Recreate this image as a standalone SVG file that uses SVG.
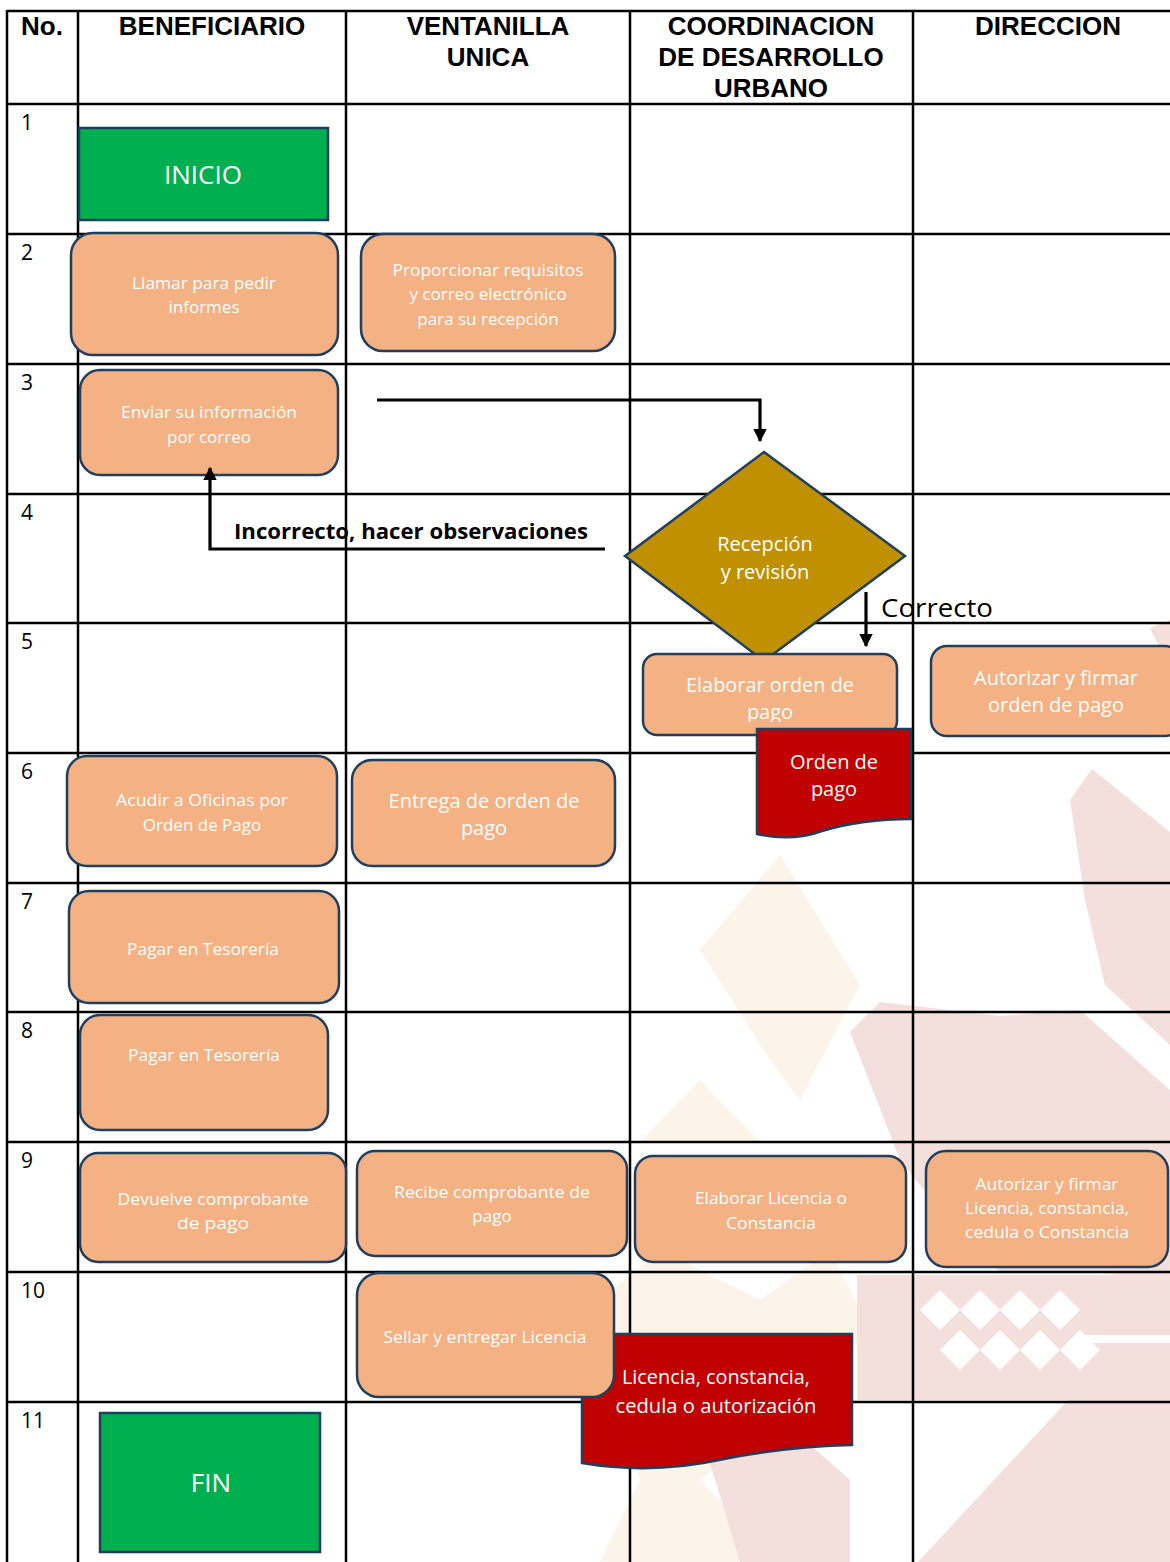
<svg xmlns="http://www.w3.org/2000/svg" width="1170" height="1562" viewBox="0 0 1170 1562">
<style>
.grid line{stroke:#000;stroke-width:2.5}
.hdr{font-family:"Liberation Sans",Arial,sans-serif;font-weight:bold;font-size:26px;fill:#000;text-anchor:middle}
.num{font-family:"Open Sans","Noto Sans",sans-serif;font-size:21px;fill:#000}
.box{fill:#F4B183;stroke:#203F5F;stroke-width:2.5}
.term{fill:#00B050;stroke:#203F5F;stroke-width:2.5}
.doc{fill:#C00000;stroke:#203F5F;stroke-width:2.5}
.dia{fill:#BF9000;stroke:#203F5F;stroke-width:2.5}
.t{font-family:"Open Sans","Noto Sans",sans-serif;fill:#fff;text-anchor:middle}
.s17{font-size:17px}
.s20{font-size:20px}
.s26{font-size:26px}
.conn{fill:none;stroke:#000;stroke-width:3.2}
.lbl{font-family:"Open Sans","Noto Sans",sans-serif;fill:#000}
.wp{fill:#F3E0DC}
.wb{fill:#FCF4E8}
.ww{fill:#fff}
</style>
<defs>
<marker id="arr" viewBox="0 0 10 10" refX="9" refY="5" markerWidth="4.6" markerHeight="4.2" orient="auto" markerUnits="strokeWidth">
<path d="M0,0 L10,5 L0,10 Z" fill="#000"/>
</marker>
<clipPath id="clipElab"><rect x="643" y="654" width="254" height="68"/></clipPath>
</defs>
<rect width="1170" height="1562" fill="#fff"/>
<g id="watermark">
<polygon class="wb" points="700,950 780,855 860,985 800,1100 770,1060"/>
<polygon class="wb" points="640,1142 700,1080 760,1142"/>
<polygon class="wb" points="600,1300 660,1250 760,1300 830,1250 870,1330 800,1400 700,1480 780,1562 600,1562 640,1480"/>
<polygon class="wp" points="1092,769 1170,832 1170,1045 1105,985 1085,900 1070,800"/>
<polygon class="wp" points="1150,628 1170,620 1170,670"/>
<polygon class="wp" points="850,1032 880,1002 1000,1016 1080,1010 1170,1090 1170,1280 1090,1272 1000,1272 940,1210 900,1160"/>
<polygon class="wp" points="857,1275 1170,1275 1170,1400 857,1400"/>
<polygon class="wp" points="918,1562 1170,1290 1170,1562"/>
<polygon class="wp" points="700,1430 760,1400 850,1480 850,1562 740,1562"/>
<g class="ww">
<polygon points="940,1290 960,1310 940,1330 920,1310"/>
<polygon points="980,1290 1000,1310 980,1330 960,1310"/>
<polygon points="1020,1290 1040,1310 1020,1330 1000,1310"/>
<polygon points="1060,1290 1080,1310 1060,1330 1040,1310"/>
<polygon points="960,1330 980,1350 960,1370 940,1350"/>
<polygon points="1000,1330 1020,1350 1000,1370 980,1350"/>
<polygon points="1040,1330 1060,1350 1040,1370 1020,1350"/>
<polygon points="1080,1330 1100,1350 1080,1370 1060,1350"/>
<rect x="1080" y="1335" width="90" height="8"/>
</g>
</g>
<g id="grid" class="grid">
<line x1="7" y1="11" x2="1170" y2="11"/>
<line x1="7" y1="104" x2="1170" y2="104"/>
<line x1="7" y1="234" x2="1170" y2="234"/>
<line x1="7" y1="364" x2="1170" y2="364"/>
<line x1="7" y1="494" x2="1170" y2="494"/>
<line x1="7" y1="623" x2="1170" y2="623"/>
<line x1="7" y1="753" x2="1170" y2="753"/>
<line x1="7" y1="883" x2="1170" y2="883"/>
<line x1="7" y1="1012" x2="1170" y2="1012"/>
<line x1="7" y1="1142" x2="1170" y2="1142"/>
<line x1="7" y1="1272" x2="1170" y2="1272"/>
<line x1="7" y1="1402" x2="1170" y2="1402"/>
<line x1="7" y1="10" x2="7" y2="1562"/>
<line x1="78" y1="10" x2="78" y2="1562"/>
<line x1="346" y1="10" x2="346" y2="1562"/>
<line x1="630" y1="10" x2="630" y2="1562"/>
<line x1="913" y1="10" x2="913" y2="1562"/>
</g>
<g id="header">
<text class="hdr" x="42" y="35">No.</text>
<text class="hdr" x="212" y="35">BENEFICIARIO</text>
<text class="hdr" x="488" y="35">VENTANILLA</text>
<text class="hdr" x="488" y="66">UNICA</text>
<text class="hdr" x="771" y="35">COORDINACION</text>
<text class="hdr" x="771" y="66">DE DESARROLLO</text>
<text class="hdr" x="771" y="97">URBANO</text>
<text class="hdr" x="1048" y="35">DIRECCION</text>
</g>
<g id="rownumbers" class="num">
<text x="21" y="130">1</text>
<text x="21" y="260">2</text>
<text x="21" y="390">3</text>
<text x="21" y="520">4</text>
<text x="21" y="649">5</text>
<text x="21" y="779">6</text>
<text x="21" y="909">7</text>
<text x="21" y="1038">8</text>
<text x="21" y="1168">9</text>
<text x="21" y="1298">10</text>
<text x="21" y="1428">11</text>
</g>
<g id="n-inicio">
<rect class="term" x="79" y="128" width="249" height="92"/>
<text class="t s26" x="203" y="184">INICIO</text>
</g>
<g id="n-llamar">
<rect class="box" x="71" y="233" width="267" height="122" rx="22"/>
<text class="t s17" x="204" y="289" textLength="144" lengthAdjust="spacingAndGlyphs">Llamar para pedir</text>
<text class="t s17" x="204" y="313">informes</text>
</g>
<g id="n-proporcionar">
<rect class="box" x="361" y="234" width="254" height="117" rx="22"/>
<text class="t s17" x="488" y="276" textLength="191" lengthAdjust="spacingAndGlyphs">Proporcionar requisitos</text>
<text class="t s17" x="488" y="300">y correo electrónico</text>
<text class="t s17" x="488" y="325">para su recepción</text>
</g>
<g id="n-enviar">
<rect class="box" x="80" y="370" width="258" height="105" rx="20"/>
<text class="t s17" x="209" y="418" textLength="176" lengthAdjust="spacingAndGlyphs">Enviar su información</text>
<text class="t s17" x="209" y="443">por correo</text>
</g>
<g id="n-recepcion">
<polygon class="dia" points="764,452 905,556 764,661 625,556"/>
<text class="t s20" x="765" y="551">Recepción</text>
<text class="t s20" x="765" y="579">y revisión</text>
</g>
<g id="n-elaborar-orden">
<rect class="box" x="643" y="654" width="254" height="81" rx="14"/>
<g clip-path="url(#clipElab)">
<text class="t s20" x="770" y="692" textLength="168" lengthAdjust="spacingAndGlyphs">Elaborar orden de</text>
<text class="t s20" x="770" y="719">pago</text>
</g>
</g>
<g id="n-autorizar-orden">
<rect class="box" x="931" y="646" width="250" height="90" rx="16"/>
<text class="t s20" x="1056" y="685" textLength="164" lengthAdjust="spacingAndGlyphs">Autorizar y firmar</text>
<text class="t s20" x="1056" y="712">orden de pago</text>
</g>
<g id="n-doc-orden">
<path class="doc" d="M757,729 H911 V819 Q862,819 822,831 Q792,842 757,834 Z"/>
<text class="t s20" x="834" y="769">Orden de</text>
<text class="t s20" x="834" y="796">pago</text>
</g>
<g id="n-acudir">
<rect class="box" x="67" y="756" width="270" height="110" rx="20"/>
<text class="t s17" x="202" y="806" textLength="172" lengthAdjust="spacingAndGlyphs">Acudir a Oficinas por</text>
<text class="t s17" x="202" y="831">Orden de Pago</text>
</g>
<g id="n-entrega">
<rect class="box" x="352" y="760" width="263" height="106" rx="20"/>
<text class="t s20" x="484" y="808" textLength="191" lengthAdjust="spacingAndGlyphs">Entrega de orden de</text>
<text class="t s20" x="484" y="835">pago</text>
</g>
<g id="n-pagar1">
<rect class="box" x="69" y="891" width="270" height="112" rx="20"/>
<text class="t s17" x="203" y="955" textLength="152" lengthAdjust="spacingAndGlyphs">Pagar en Tesorería</text>
</g>
<g id="n-pagar2">
<rect class="box" x="80" y="1015" width="248" height="115" rx="20"/>
<text class="t s17" x="204" y="1061" textLength="152" lengthAdjust="spacingAndGlyphs">Pagar en Tesorería</text>
</g>
<g id="n-devuelve">
<rect class="box" x="80" y="1153" width="266" height="109" rx="18"/>
<text class="t s17" x="213" y="1205" textLength="191" lengthAdjust="spacingAndGlyphs">Devuelve comprobante</text>
<text class="t s17" x="213" y="1229" textLength="72" lengthAdjust="spacingAndGlyphs">de pago</text>
</g>
<g id="n-recibe">
<rect class="box" x="357" y="1151" width="270" height="105" rx="18"/>
<text class="t s17" x="492" y="1198" textLength="196" lengthAdjust="spacingAndGlyphs">Recibe comprobante de</text>
<text class="t s17" x="492" y="1222">pago</text>
</g>
<g id="n-elaborar-licencia">
<rect class="box" x="635" y="1156" width="271" height="106" rx="18"/>
<text class="t s17" x="771" y="1204" textLength="152" lengthAdjust="spacingAndGlyphs">Elaborar Licencia o</text>
<text class="t s17" x="771" y="1229" textLength="90" lengthAdjust="spacingAndGlyphs">Constancia</text>
</g>
<g id="n-autorizar-licencia">
<rect class="box" x="926" y="1151" width="242" height="116" rx="20"/>
<text class="t s17" x="1047" y="1190" textLength="143" lengthAdjust="spacingAndGlyphs">Autorizar y firmar</text>
<text class="t s17" x="1047" y="1214" textLength="164" lengthAdjust="spacingAndGlyphs">Licencia, constancia,</text>
<text class="t s17" x="1047" y="1238" textLength="164" lengthAdjust="spacingAndGlyphs">cedula o Constancia</text>
</g>
<g id="n-doc-licencia">
<path class="doc" d="M582,1334 H852 V1445 Q792,1446 724,1459 Q652,1475 582,1463 Z"/>
<text class="t s20" x="716" y="1384" textLength="188" lengthAdjust="spacingAndGlyphs">Licencia, constancia,</text>
<text class="t s20" x="716" y="1413" textLength="201" lengthAdjust="spacingAndGlyphs">cedula o autorización</text>
</g>
<g id="n-sellar">
<rect class="box" x="357" y="1273" width="257" height="124" rx="22"/>
<text class="t s17" x="485" y="1343" textLength="203" lengthAdjust="spacingAndGlyphs">Sellar y entregar Licencia</text>
</g>
<g id="n-fin">
<rect class="term" x="100" y="1413" width="220" height="139"/>
<text class="t s26" x="211" y="1492">FIN</text>
</g>
<g id="connectors">
<path class="conn" d="M377,400 H760 V441" marker-end="url(#arr)"/>
<path class="conn" d="M605,549 H210 V468" marker-end="url(#arr)"/>
<path class="conn" d="M866,592 V646" marker-end="url(#arr)"/>
<text class="lbl" x="234" y="539" font-size="22" font-weight="bold" textLength="354" lengthAdjust="spacingAndGlyphs">Incorrecto, hacer observaciones</text>
<text class="lbl" x="881" y="617" font-size="26" textLength="112" lengthAdjust="spacingAndGlyphs">Correcto</text>
</g>
</svg>
